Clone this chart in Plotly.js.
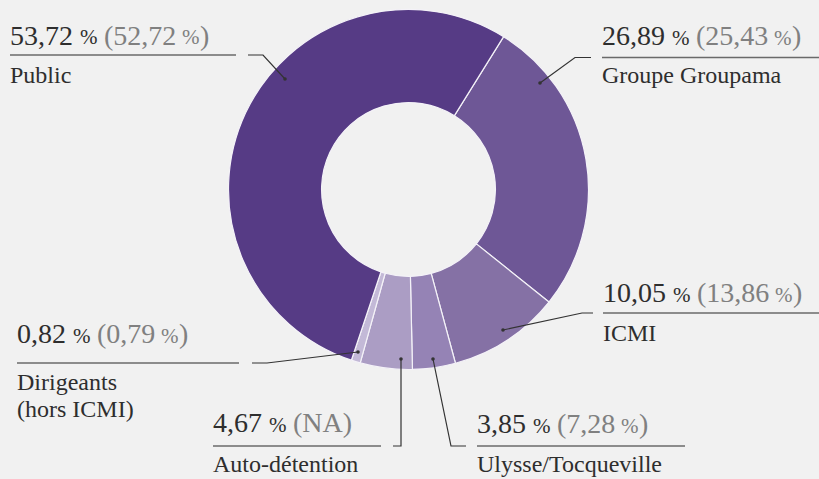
<!DOCTYPE html>
<html>
<head>
<meta charset="utf-8">
<script src="https://cdn.plot.ly/plotly-3.0.1.min.js"></script>
<style>
  html, body { margin: 0; padding: 0; background: #f1f1f1; }
  #chart { width: 819px; height: 479px; }
</style>
</head>
<body>
<div id="chart"></div>
<script>
var W = 819, H = 479;
var cBg = '#f1f1f1';
var cDark = '#2e2e2e';
var cGrey = '#808080';
var FONT = 'Liberation Serif';

// slices, clockwise starting from Groupe Groupama
var labels = ['Groupe Groupama', 'ICMI', 'Ulysse/Tocqueville', 'Auto-détention', 'Dirigeants<br>(hors ICMI)', 'Public'];
var values = [26.89, 10.05, 3.85, 4.67, 0.82, 53.72];
var previous = ['25,43', '13,86', '7,28', 'NA', '0,79', '52,72'];
var colors = ['#6e5796', '#8571a5', '#9583b5', '#ab9dc4', '#c3b9d7', '#563b85'];

// label placement (pixels): text left, value baseline, name baselines, underline x range / y
var labelPos = [
  {x: 602, bv: 45, bn: [83], ux: [602, 819], uy: 57.5},
  {x: 603, bv: 302, bn: [341], ux: [603, 819], uy: 313},
  {x: 477, bv: 433, bn: [472], ux: [477, 685], uy: 446},
  {x: 213, bv: 432, bn: [472], ux: [213, 381], uy: 446},
  {x: 17, bv: 343, bn: [390, 417], ux: [17, 239], uy: 363},
  {x: 10, bv: 44.5, bn: [83], ux: [10, 236], uy: 55}
];
// leader lines (pixels), last point is the dot
var leaders = [
  [[591, 57.5], [575, 57.5], [540, 83]],
  [[593, 313], [582, 313], [503, 330]],
  [[466, 446], [451, 446], [433, 359]],
  [[393, 446], [401, 446], [401, 359]],
  [[252, 363], [267, 363], [358, 352]],
  [[248, 55], [263, 55], [285, 79]]
];

function px(x) { return x / W; }
function py(y) { return 1 - y / H; }
function fmt(v) { return v.toFixed(2).replace('.', ','); }

var ctx = document.createElement('canvas').getContext('2d');
function tw(s, size) { ctx.font = size + 'px "' + FONT + '"'; return ctx.measureText(s).width; }

var annotations = [];
// one text piece, placed by its left edge and baseline
function piece(text, x, baseline, size, color) {
  annotations.push({
    xref: 'paper', yref: 'paper', x: px(x - 2), y: py(baseline - 0.3375 * size),
    xanchor: 'left', yanchor: 'middle', showarrow: false,
    text: text, font: {family: FONT, size: size, color: color}
  });
  return x + tw(text, size);
}

var shapes = [];
for (var i = 0; i < labels.length; i++) {
  var p = labelPos[i];
  var x = piece(fmt(values[i]), p.x, p.bv, 28, cDark);
  x = piece('%', x + 7, p.bv, 21, cDark);
  if (previous[i] === 'NA') {
    piece('(NA)', x + 7, p.bv, 28, cGrey);
  } else {
    x = piece('(' + previous[i], x + 7, p.bv, 28, cGrey);
    x = piece('%', x + 5, p.bv, 21, cGrey);
    piece(')', x + 1, p.bv, 28, cGrey);
  }
  var lines = labels[i].split('<br>');
  for (var k = 0; k < lines.length; k++) piece(lines[k], p.x, p.bn[k], 24, cDark);

  shapes.push({
    type: 'line', xref: 'paper', yref: 'paper',
    x0: px(p.ux[0]), x1: px(p.ux[1]), y0: py(p.uy), y1: py(p.uy),
    line: {color: '#6a6a6a', width: 1.5}
  });
  var l = leaders[i];
  var path = 'M' + l.map(function (pt) { return px(pt[0]) + ',' + py(pt[1]); }).join(' L');
  shapes.push({type: 'path', xref: 'paper', yref: 'paper', path: path,
    line: {color: '#333333', width: 1.2}});
  var d = l[l.length - 1];
  shapes.push({type: 'circle', xref: 'paper', yref: 'paper',
    x0: px(d[0] - 1.8), x1: px(d[0] + 1.8), y0: py(d[1] + 1.8), y1: py(d[1] - 1.8),
    fillcolor: '#333333', line: {width: 0}});
}

var cx = 408.5, cy = 189.5, R = 180;
var data = [{
  type: 'pie',
  labels: labels,
  values: values,
  sort: false,
  direction: 'clockwise',
  rotation: 31.9,
  hole: 0.483,
  textinfo: 'none',
  hoverinfo: 'none',
  marker: {colors: colors, line: {color: '#f4f2f8', width: 1.2}},
  domain: {x: [px(cx - R), px(cx + R)], y: [py(cy + R), py(cy - R)]}
}];

var layout = {
  width: W, height: H,
  margin: {l: 0, r: 0, t: 0, b: 0},
  paper_bgcolor: cBg,
  plot_bgcolor: cBg,
  showlegend: false,
  annotations: annotations,
  shapes: shapes
};

Plotly.newPlot('chart', data, layout, {staticPlot: true});
</script>
</body>
</html>
